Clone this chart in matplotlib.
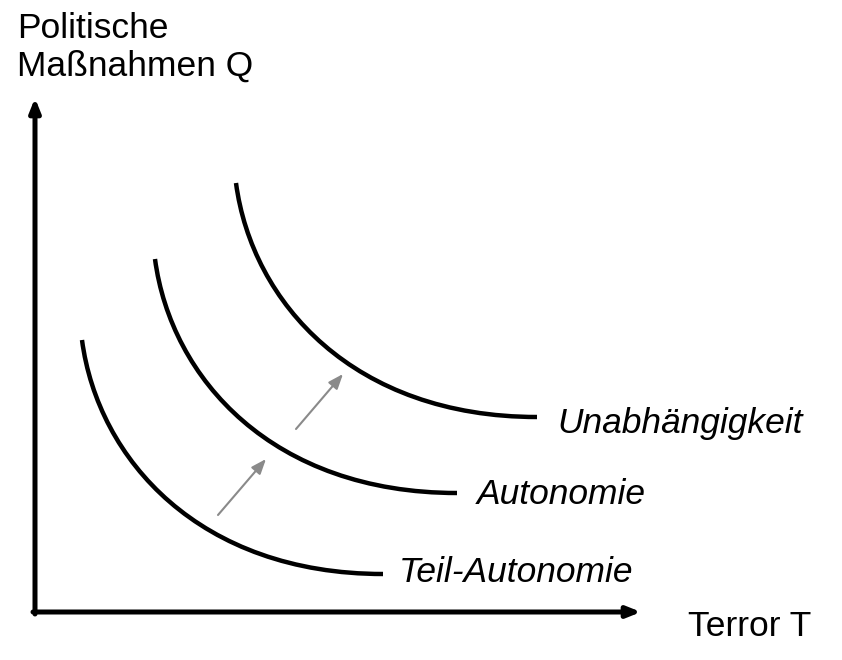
"""
Politische Maßnahmen vs. Terror - Indifferenzkurven
Output: out.png
"""

import matplotlib.pyplot as plt
from matplotlib.path import Path
from matplotlib.patches import PathPatch

plt.rcParams['font.family'] = ['Liberation Sans', 'DejaVu Sans']

# ==================== DATA (Pixelkoordinaten, Bezier-Kontrollpunkte) ====================
curve_names = ["Teil-Autonomie", "Autonomie", "Unabhängigkeit"]
teil_x = [82, 98, 200, 383]
teil_y = [340, 460, 574, 574]
auto_x = [155, 171, 273, 457]
auto_y = [259, 379, 493, 493]
unab_x = [236, 252, 354, 537]
unab_y = [183, 303, 417, 417]

# Pfeile zwischen den Kurven (start -> ende)
shift_start_x = [218, 296]
shift_start_y = [515, 429]
shift_end_x = [266, 343]
shift_end_y = [459, 374]

# Achsen
origin = (35, 612)
y_tip = (35, 98)
x_tip = (641, 612)

# ==================== PLOT ====================
fig = plt.figure(figsize=(8.42, 6.6), dpi=100)
ax = fig.add_axes([0, 0, 1, 1])
ax.set_xlim(0, 842)
ax.set_ylim(660, 0)
ax.axis('off')

axis_arrow = dict(arrowstyle='-|>,head_length=0.8,head_width=0.32', color='black',
                  lw=3.6, shrinkA=0, shrinkB=0)
ax.annotate('', xy=y_tip, xytext=(origin[0], origin[1] + 2), arrowprops=axis_arrow)
ax.annotate('', xy=x_tip, xytext=(origin[0] - 2, origin[1]), arrowprops=axis_arrow)

codes = [Path.MOVETO, Path.CURVE4, Path.CURVE4, Path.CURVE4]
for xs, ys in [(teil_x, teil_y), (auto_x, auto_y), (unab_x, unab_y)]:
    path = Path(list(zip(xs, ys)), codes)
    ax.add_patch(PathPatch(path, facecolor='none', edgecolor='black', lw=3.2))

for sx, sy, ex, ey in zip(shift_start_x, shift_start_y, shift_end_x, shift_end_y):
    ax.annotate('', xy=(ex, ey), xytext=(sx, sy),
                arrowprops=dict(arrowstyle='-|>,head_length=0.9,head_width=0.35',
                                color='#8a8a8a', lw=1.5, shrinkA=0, shrinkB=0))

# Beschriftungen
fs = 25.5
ax.text(557, 424, curve_names[2], fontsize=fs, style='italic', va='center', ha='left')
ax.text(477, 494, curve_names[1], fontsize=fs, style='italic', va='center', ha='left')
ax.text(399, 572, curve_names[0], fontsize=fs, style='italic', va='center', ha='left')
ax.text(688, 627, 'Terror T', fontsize=fs, va='center', ha='left')
ax.text(17, 12, 'Politische\nMaßnahmen Q', fontsize=fs, va='top', ha='left', linespacing=1.2)

fig.savefig('out.png', dpi=100, facecolor='white')
